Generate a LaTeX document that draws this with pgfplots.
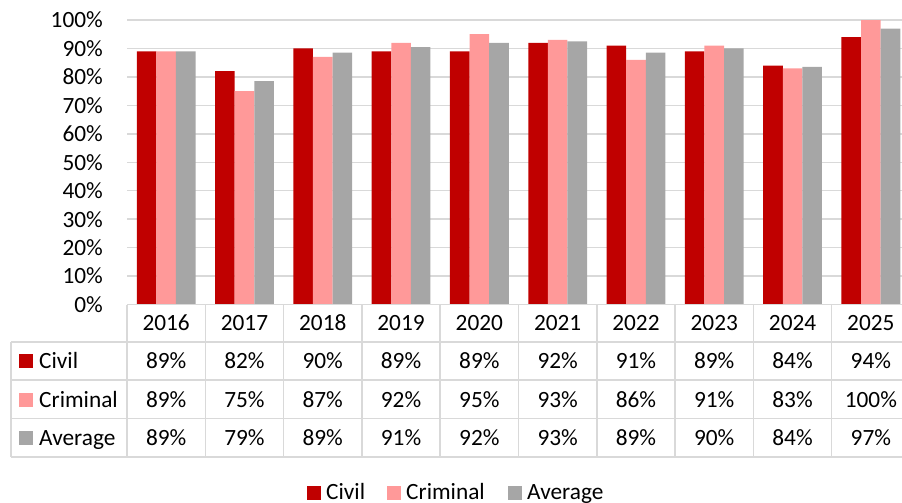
\documentclass[border=0pt]{standalone}
\usepackage{pgfplots}
\pgfplotsset{compat=1.18}
\usepackage{fontspec}
\setmainfont{Carlito}
\definecolor{civil}{RGB}{192,0,0}
\definecolor{criminal}{RGB}{255,153,153}
\definecolor{avgc}{RGB}{166,166,166}
\definecolor{gridc}{RGB}{217,217,217}
\begin{document}
\begin{tikzpicture}[font=\fontsize{23.3}{28}\selectfont]
\useasboundingbox (0,0) rectangle (902pt,-503pt);
\begin{axis}[
  at={(127pt,-304.5pt)}, anchor=south west,
  scale only axis, width=783pt, height=284.5pt,
  xmin=-0.5, xmax=9.5, ymin=0, ymax=100,
  ybar=0pt, bar width=19.6pt,
  axis line style={draw=none},
  major tick length=0pt,
  xtick=\empty,
  ytick={0,10,...,100},
  yticklabel={\pgfmathprintnumber{\tick}\%},
  /pgf/number format/assume math mode=true,
  yticklabel style={inner sep=0pt, xshift=-24pt, anchor=east},
  ymajorgrids, grid style={gridc, line width=1.5pt},
  clip=false,
]
\addplot[fill=civil, draw=none] coordinates {(0,89) (1,82) (2,90) (3,89) (4,89) (5,92) (6,91) (7,89) (8,84) (9,94)};
\addplot[fill=criminal, draw=none] coordinates {(0,89) (1,75) (2,87) (3,92) (4,95) (5,93) (6,86) (7,91) (8,83) (9,100)};
\addplot[fill=avgc, draw=none] coordinates {(0,89) (1,78.5) (2,88.5) (3,90.5) (4,92) (5,92.5) (6,88.5) (7,90) (8,83.5) (9,97)};
\end{axis}
% data table grid
\begin{scope}[gridc, line width=1.5pt]
  \draw (127pt,-304.5pt) -- (910pt,-304.5pt);
  \foreach \yy in {342,380,418.5,457} \draw (11pt,-\yy pt) -- (910pt,-\yy pt);
  \draw (11pt,-342pt) -- (11pt,-457pt);
  \foreach \k in {0,...,9} \draw ({127pt+78.3pt*\k},-304.5pt) -- ({127pt+78.3pt*\k},-457pt);
\end{scope}
\begin{scope}[every node/.style={inner sep=0pt, anchor=base}]
\foreach \yr [count=\k from 0] in {2016,2017,2018,2019,2020,2021,2022,2023,2024,2025}
  \node at ({166.15pt+78.3pt*\k},-330.5pt) {\yr};
\foreach \v [count=\k from 0] in {89,82,90,89,89,92,91,89,84,94}
  \node at ({166.15pt+78.3pt*\k},-368.5pt) {\v\%};
\foreach \v [count=\k from 0] in {89,75,87,92,95,93,86,91,83,100}
  \node at ({166.15pt+78.3pt*\k},-407pt) {\v\%};
\foreach \v [count=\k from 0] in {89,79,89,91,92,93,89,90,84,97}
  \node at ({166.15pt+78.3pt*\k},-445pt) {\v\%};
% row labels
\node[anchor=base west] at (39pt,-368.5pt) {Civil};
\node[anchor=base west] at (39pt,-407pt) {Criminal};
\node[anchor=base west] at (39pt,-445pt) {Average};
% legend
\node[anchor=base west] at (326pt,-499pt) {Civil};
\node[anchor=base west] at (406pt,-499pt) {Criminal};
\node[anchor=base west] at (527pt,-499pt) {Average};
\end{scope}
\fill[civil] (19pt,-354pt) rectangle (33pt,-368pt);
\fill[criminal] (19pt,-392.5pt) rectangle (33pt,-406.5pt);
\fill[avgc] (19pt,-430.5pt) rectangle (33pt,-444.5pt);
\fill[civil] (307pt,-486pt) rectangle (321pt,-500pt);
\fill[criminal] (387pt,-486pt) rectangle (401pt,-500pt);
\fill[avgc] (508pt,-486pt) rectangle (522pt,-500pt);
\end{tikzpicture}
\end{document}
